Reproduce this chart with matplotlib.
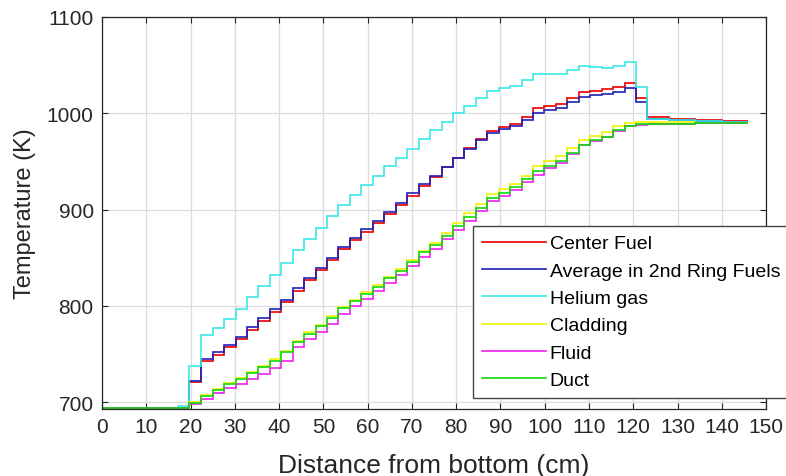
import matplotlib
matplotlib.use("Agg")
import matplotlib.pyplot as plt

plt.rcParams['font.family'] = ['Liberation Sans', 'DejaVu Sans']

# segment edges along the channel (cm)
edges = [0.0, 17.2, 19.6, 22.4,
         24.99, 27.57, 30.16, 32.74, 35.33, 37.91, 40.50, 43.08, 45.67, 48.25,
         50.84, 53.42, 56.01, 58.59, 61.18, 63.76, 66.35, 68.93, 71.52, 74.10,
         76.69, 79.27, 81.86, 84.44, 87.03, 89.61, 92.20, 94.78, 97.37, 99.95,
         102.54, 105.12, 107.71, 110.29, 112.88, 115.46, 118.05, 120.63,
         123.0, 128.0, 134.0, 140.0, 146.0]

center_fuel = [693.5, 694.0, 720.4,
               742.5, 748.5, 757.0, 765.0, 775.0, 784.5, 794.0, 804.0, 815.5, 826.5,
               837.0, 847.5, 858.5, 868.0, 877.0, 886.0, 895.0, 904.5, 914.5, 924.0,
               934.0, 944.0, 953.5, 963.5, 973.0, 982.0, 985.5, 989.0, 996.5, 1005.2,
               1007.5, 1009.6, 1015.5, 1021.7, 1023.4, 1024.8, 1027.5, 1031.6,
               1016.3, 996.0, 994.5, 993.0, 991.5]

ring2_fuel = [693.5, 694.0, 721.7,
              745.0, 751.5, 759.5, 767.5, 777.5, 787.0, 796.5, 806.5, 818.0, 829.0,
              839.5, 850.0, 861.0, 870.5, 879.5, 888.5, 897.5, 907.0, 917.0, 926.0,
              934.5, 944.0, 953.0, 962.8, 971.7, 980.0, 983.5, 986.5, 993.0, 1000.5,
              1003.4, 1005.2, 1012.0, 1017.2, 1019.0, 1020.2, 1022.4, 1026.5,
              1012.0, 994.0, 993.0, 992.0, 991.0]

helium = [693.5, 695.5, 737.0,
          770.0, 776.5, 786.0, 797.0, 808.8, 821.0, 832.4, 844.6, 858.0, 869.5,
          881.0, 893.0, 905.0, 914.6, 925.0, 935.0, 945.5, 953.5, 963.0, 973.2,
          982.4, 991.0, 1000.0, 1007.9, 1015.5, 1023.4, 1025.8, 1028.0, 1034.4, 1040.5,
          1040.8, 1041.0, 1045.4, 1049.2, 1048.4, 1047.3, 1049.0, 1053.3,
          1027.5, 993.8, 993.0, 992.0, 991.0]

cladding = [693.5, 694.0, 700.5,
            707.0, 713.5, 719.5, 725.0, 731.0, 737.5, 744.5, 753.5, 763.5, 772.5,
            780.5, 789.0, 799.0, 806.5, 814.0, 821.5, 830.0, 838.0, 847.5, 857.0,
            865.7, 876.0, 886.4, 896.0, 905.3, 915.6, 920.8, 926.0, 935.2, 945.6,
            950.0, 955.2, 963.8, 972.4, 976.5, 981.0, 986.9, 990.3,
            991.4, 991.0, 990.5, 990.3, 990.0]

fluid = [693.5, 694.0, 697.5,
         703.0, 709.0, 714.2, 718.5, 724.0, 729.6, 735.5, 742.5, 757.5, 766.0,
         773.0, 781.5, 791.5, 799.5, 807.0, 815.0, 823.5, 832.0, 841.5, 851.0,
         859.0, 869.0, 879.0, 888.5, 898.0, 908.7, 914.5, 920.0, 929.0, 936.3,
         943.2, 948.3, 958.0, 966.5, 971.0, 975.5, 982.0, 986.5,
         988.0, 988.8, 989.2, 989.4, 989.4]

duct = [693.5, 694.0, 699.5,
        706.0, 712.5, 718.5, 724.0, 730.0, 736.0, 743.0, 752.0, 762.0, 771.0,
        779.0, 787.5, 797.5, 805.0, 812.3, 819.8, 828.5, 836.4, 845.7, 855.4,
        863.0, 873.0, 883.0, 892.5, 902.0, 911.5, 917.5, 923.0, 931.5, 940.0,
        944.8, 950.0, 958.7, 967.3, 971.7, 975.8, 982.7, 986.9,
        988.6, 989.0, 989.3, 989.5, 989.5]

series = [
    ("Center Fuel", center_fuel, "#e60000"),
    ("Average in 2nd Ring Fuels", ring2_fuel, "#2020b8"),
    ("Helium gas", helium, "#3ae8e8"),
    ("Cladding", cladding, "#f2f200"),
    ("Fluid", fluid, "#f020f0"),
    ("Duct", duct, "#10d810"),
]

fig = plt.figure(figsize=(7.86, 4.77), dpi=100)
ax = fig.add_axes([0.1298, 0.1405, 0.8448, 0.8218])

for name, vals, col in series:
    ax.stairs(vals, edges, baseline=None, color=col, linewidth=1.2, label=name)

ax.set_xlim(0, 150)
ax.set_ylim(692.8, 1100)
ax.set_xticks(range(0, 151, 10))
ax.set_yticks([700, 800, 900, 1000, 1100])
ax.grid(True, color="#dcdcdc", linewidth=0.9)
ax.set_axisbelow(True)

for sp in ax.spines.values():
    sp.set_color("#262626")
    sp.set_linewidth(0.9)
ax.tick_params(direction="in", length=4, top=True, right=True,
               labelsize=15, colors="#262626", pad=6)

ax.set_xlabel("Distance from bottom (cm)", fontsize=19, color="#262626", labelpad=12)
ax.set_ylabel("Temperature (K)", fontsize=17, color="#262626", labelpad=8)

leg = ax.legend(loc="upper left", bbox_to_anchor=(473 / 786, 1 - 227 / 477),
                bbox_transform=fig.transFigure, borderaxespad=0,
                fontsize=14, handlelength=3.3, handletextpad=0.2,
                labelspacing=0.5, borderpad=0.45, fancybox=False,
                framealpha=1, edgecolor="#444444")
leg.get_frame().set_linewidth(1.0)

fig.savefig("out.png", dpi=100)
